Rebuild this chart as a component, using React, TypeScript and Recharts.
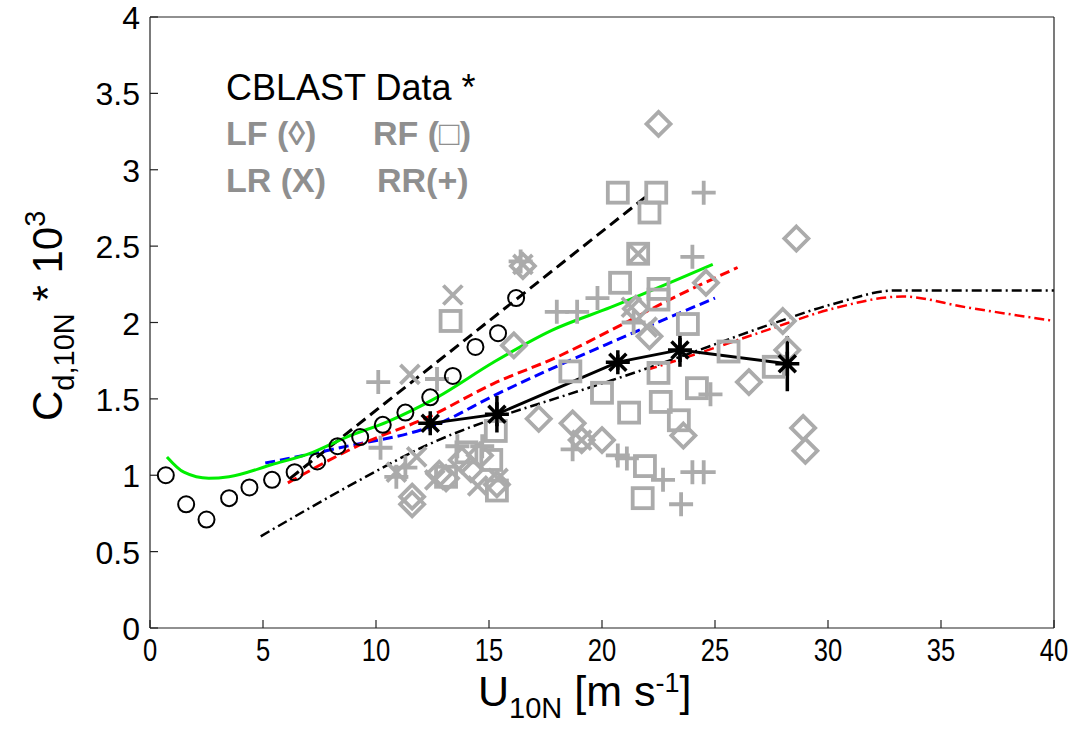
import { ComposedChart, Line, Scatter, XAxis, YAxis, ErrorBar } from "recharts"

const GRAY = "#ababab"
const LEGEND_GRAY = "#8f8f8f"

const xTicks = [0, 5, 10, 15, 20, 25, 30, 35, 40]
const yTicks = [0, 0.5, 1, 1.5, 2, 2.5, 3, 3.5, 4]

// open black circles
const circleX = [0.7, 1.6, 2.5, 3.5, 4.4, 5.4, 6.4, 7.4, 8.3, 9.3, 10.3, 11.3, 12.4, 13.4, 14.4, 15.4, 16.2]
const circleY = [1.0, 0.81, 0.71, 0.85, 0.92, 0.97, 1.02, 1.09, 1.19, 1.25, 1.33, 1.41, 1.51, 1.65, 1.84, 1.93, 2.16]

// model curves
const blackDashed = [[6.2, 0.98], [22.0, 2.83]]
const greenSolid = [[0.75, 1.12], [1.5, 1.02], [2.6, 0.98], [3.5, 0.99], [5.4, 1.07], [7.2, 1.15], [8.7, 1.25], [10.5, 1.35], [12.7, 1.51], [15.2, 1.74], [17.8, 1.95], [20.4, 2.1], [24.9, 2.38]]
const redDashed = [[6.1, 0.95], [9.3, 1.2], [12.3, 1.38], [15.2, 1.6], [18.1, 1.78], [20.4, 1.95], [23.0, 2.15], [26.0, 2.36]]
const blueDashed = [[5.1, 1.08], [8.4, 1.18], [12.8, 1.34], [15.2, 1.52], [18.1, 1.72], [20.4, 1.87], [25.0, 2.16]]
const blackDashDot = [[4.9, 0.6], [7.0, 0.78], [9.3, 0.97], [12.3, 1.2], [15.2, 1.37], [18.1, 1.51], [20.4, 1.62], [22.0, 1.7], [24.3, 1.82], [27.3, 1.98], [30.2, 2.12], [33.0, 2.21], [40.0, 2.21]]
const redDashDot = [[22.0, 1.69], [24.3, 1.8], [27.3, 1.95], [30.2, 2.09], [33.3, 2.17], [36.1, 2.1], [40.0, 2.01]]

// CBLAST bin averages
const starX = [12.4, 15.35, 20.7, 23.45, 28.2]
const starY = [1.34, 1.4, 1.74, 1.82, 1.73]
const starErr = [0.05, 0.12, 0.05, 0.11, 0.18]

// LF (diamonds)
const lfPoints = [[22.5, 3.3], [28.6, 2.55], [24.6, 2.26], [28.0, 2.01], [28.2, 1.82], [26.5, 1.61], [28.9, 1.31], [29.0, 1.16], [23.6, 1.26], [22.1, 1.91], [17.2, 1.37], [18.7, 1.34], [19.1, 1.23], [20.0, 1.23], [16.5, 2.37], [16.1, 1.85], [11.6, 0.86], [11.6, 0.81], [12.8, 1.01], [13.1, 0.98], [13.8, 1.1], [14.2, 1.04], [14.6, 1.13], [15.35, 0.94], [21.5, 2.09]]
// RF (squares)
const rfPoints = [[20.7, 2.85], [22.4, 2.85], [22.1, 2.72], [21.6, 2.45], [20.8, 2.26], [22.5, 2.22], [22.5, 2.15], [23.8, 1.99], [20.0, 1.54], [22.5, 1.67], [21.2, 1.41], [22.6, 1.48], [23.4, 1.36], [24.2, 1.57], [25.6, 1.81], [27.6, 1.71], [21.9, 1.06], [21.8, 0.85], [18.6, 1.68], [13.3, 2.01], [15.3, 1.29], [15.35, 0.9], [13.1, 0.99], [15.1, 1.1], [14.0, 1.15]]
// LR (x marks)
const lrPoints = [[13.4, 2.18], [16.5, 2.38], [11.5, 1.66], [21.6, 2.45], [21.3, 2.1], [22.0, 1.97], [10.9, 1.02], [11.8, 1.12], [12.6, 0.97], [14.5, 0.93], [15.4, 0.98], [19.1, 1.23]]
// RR (plus marks)
const rrPoints = [[24.5, 2.85], [24.0, 2.43], [19.8, 2.16], [18.9, 2.07], [18.0, 2.07], [16.4, 2.4], [10.1, 1.61], [12.7, 1.63], [10.2, 1.18], [10.9, 0.99], [11.3, 1.05], [13.6, 1.19], [14.7, 1.19], [18.7, 1.17], [20.7, 1.13], [21.1, 1.11], [22.7, 0.97], [23.5, 0.81], [24.0, 1.02], [24.5, 1.02], [24.8, 1.53], [21.4, 2.0]]

const toXY = (pts: number[][]) => pts.map(([x, y]) => ({ x, y }))
const circles = circleX.map((x, i) => ({ x, y: circleY[i] }))
const stars = starX.map((x, i) => ({ x, y: starY[i], err: starErr[i] }))

const Diamond = ({ cx, cy }: any) => (
  <path d={`M${cx},${cy - 12}L${cx + 12},${cy}L${cx},${cy + 12}L${cx - 12},${cy}Z`} fill="none" stroke={GRAY} strokeWidth={3.8} />
)
const Square = ({ cx, cy }: any) => (
  <rect x={cx - 10} y={cy - 10} width={20} height={20} fill="none" stroke={GRAY} strokeWidth={3.8} />
)
const Cross = ({ cx, cy }: any) => (
  <path d={`M${cx - 9.5},${cy - 9.5}L${cx + 9.5},${cy + 9.5}M${cx - 9.5},${cy + 9.5}L${cx + 9.5},${cy - 9.5}`} stroke={GRAY} strokeWidth={3.8} />
)
const Plus = ({ cx, cy }: any) => (
  <path d={`M${cx - 12},${cy}L${cx + 12},${cy}M${cx},${cy - 12}L${cx},${cy + 12}`} stroke={GRAY} strokeWidth={3.8} />
)
const OpenCircle = ({ cx, cy }: any) => (
  <circle cx={cx} cy={cy} r={8} fill="none" stroke="#000" strokeWidth={2} />
)
const Star = ({ cx, cy }: any) => (
  <path
    d={`M${cx - 12},${cy}L${cx + 12},${cy}M${cx},${cy - 12}L${cx},${cy + 12}M${cx - 8.5},${cy - 8.5}L${cx + 8.5},${cy + 8.5}M${cx - 8.5},${cy + 8.5}L${cx + 8.5},${cy - 8.5}`}
    stroke="#000"
    strokeWidth={3.5}
  />
)

const font = "Liberation Sans, Arial, sans-serif"

const XTick = ({ x, y, payload }: any) => (
  <text transform={`translate(${x},${y}) scale(0.8,1)`} textAnchor="middle" fontSize={32} fontFamily={font} fill="#000">
    {payload.value}
  </text>
)
const YTick = ({ x, y, payload }: any) => (
  <text x={x} y={y + 12} textAnchor="end" fontSize={32} fontFamily={font} fill="#000">
    {payload.value}
  </text>
)

const axisLine = { stroke: "#222", strokeWidth: 1.2 }
const tickLine = { stroke: "#222", strokeWidth: 1.2 }

export default function App() {
  return (
    <div style={{ position: "absolute", left: 0, top: 0, width: 1091, height: 732, background: "#fff" }}>
      <ComposedChart width={1091} height={732} margin={{ top: 16, right: 36, bottom: 44, left: 90 }}>
        <XAxis type="number" dataKey="x" domain={[0, 40]} ticks={xTicks} interval={0} height={60} tickSize={-8} tickMargin={41} axisLine={axisLine} tickLine={tickLine} tick={<XTick />} allowDataOverflow />
        <XAxis xAxisId="top" orientation="top" type="number" dataKey="x" domain={[0, 40]} ticks={xTicks} interval={0} height={1} tickSize={-8} axisLine={axisLine} tickLine={tickLine} tick={false} allowDataOverflow />
        <YAxis type="number" domain={[0, 4]} ticks={yTicks} interval={0} width={60} tickSize={-8} tickMargin={18} axisLine={axisLine} tickLine={tickLine} tick={<YTick />} allowDataOverflow />
        <YAxis yAxisId="right" orientation="right" type="number" domain={[0, 4]} ticks={yTicks} interval={0} width={1} tickSize={-8} axisLine={axisLine} tickLine={tickLine} tick={false} allowDataOverflow />

        <Scatter data={toXY(lfPoints)} dataKey="y" shape={Diamond} isAnimationActive={false} />
        <Scatter data={toXY(rfPoints)} dataKey="y" shape={Square} isAnimationActive={false} />
        <Scatter data={toXY(lrPoints)} dataKey="y" shape={Cross} isAnimationActive={false} />
        <Scatter data={toXY(rrPoints)} dataKey="y" shape={Plus} isAnimationActive={false} />

        <Line data={toXY(blackDashDot)} dataKey="y" type="monotone" stroke="#000" strokeWidth={2.5} strokeDasharray="10 4 2 4" dot={false} isAnimationActive={false} />
        <Line data={toXY(redDashDot)} dataKey="y" type="monotone" stroke="#ff0000" strokeWidth={2.5} strokeDasharray="10 4 2 4" dot={false} isAnimationActive={false} />
        <Line data={toXY(blackDashed)} dataKey="y" stroke="#000" strokeWidth={3} strokeDasharray="11 6" dot={false} isAnimationActive={false} />
        <Line data={toXY(blueDashed)} dataKey="y" type="monotone" stroke="#0000ff" strokeWidth={3} strokeDasharray="10 5" dot={false} isAnimationActive={false} />
        <Line data={toXY(redDashed)} dataKey="y" type="monotone" stroke="#ff0000" strokeWidth={3} strokeDasharray="10 5" dot={false} isAnimationActive={false} />
        <Line data={toXY(greenSolid)} dataKey="y" type="monotone" stroke="#00ee00" strokeWidth={3} dot={false} isAnimationActive={false} />

        <Scatter data={circles} dataKey="y" shape={OpenCircle} isAnimationActive={false} />
        <Line data={stars} dataKey="y" stroke="#000" strokeWidth={2.8} dot={false} isAnimationActive={false} />
        <Scatter data={stars} dataKey="y" shape={Star} isAnimationActive={false}>
          <ErrorBar dataKey="err" direction="y" width={0} stroke="#000" strokeWidth={3.5} />
        </Scatter>
      </ComposedChart>

      <svg width={1091} height={732} style={{ position: "absolute", left: 0, top: 0, pointerEvents: "none" }}>
        <text x={226} y={100} fontSize={36} fontFamily={font} fill="#000">CBLAST Data *</text>
        <text x={226} y={145} fontSize={34} fontWeight="bold" fontFamily={font} fill={LEGEND_GRAY}>LF (◊)</text>
        <text x={373} y={145} fontSize={34} fontWeight="bold" fontFamily={font} fill={LEGEND_GRAY}>RF (□)</text>
        <text x={226} y={192} fontSize={34} fontWeight="bold" fontFamily={font} fill={LEGEND_GRAY}>LR (X)</text>
        <text x={377} y={192} fontSize={34} fontWeight="bold" fontFamily={font} fill={LEGEND_GRAY}>RR(+)</text>

        <text x={478} y={706} fontSize={43} fontFamily={font} fill="#000">
          U<tspan fontSize={29} dy={12}>10N</tspan>
          <tspan dy={-12}> [m s</tspan>
          <tspan fontSize={27} dy={-14}>-1</tspan>
          <tspan dy={14}>]</tspan>
        </text>

        <text transform="translate(62,421) rotate(-90)" fontSize={42} fontFamily={font} fill="#000">
          C<tspan fontSize={29} dy={12}>d,10N</tspan>
          <tspan dy={-12}> * 10</tspan>
          <tspan fontSize={29} dy={-17}>3</tspan>
        </text>
      </svg>
    </div>
  )
}
